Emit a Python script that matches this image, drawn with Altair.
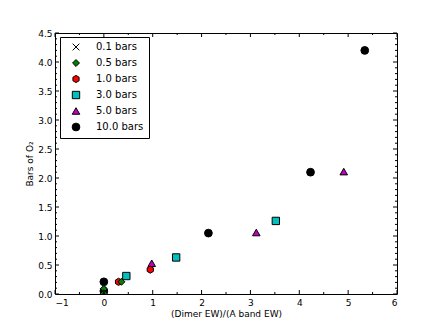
import altair as alt
import pandas as pd

# ---- data ----
series = ["0.1 bars", "0.5 bars", "1.0 bars", "3.0 bars", "5.0 bars", "10.0 bars"]
colors = ["#000000", "#007F00", "#FF0000", "#00BFBF", "#BF00BF", "#000000"]

x10 = [0.0, 0.0, 2.14, 4.23, 5.34]
y10 = [0.21, 0.05, 1.05, 2.10, 4.20]
x3 = [0.46, 1.48, 3.52]
y3 = [0.31, 0.63, 1.26]
x5 = [0.98, 3.12, 4.91]
y5 = [0.53, 1.06, 2.11]
x1 = [0.30, 0.95]
y1 = [0.21, 0.42]
x05 = [0.0, 0.0, 0.36]
y05 = [0.09, 0.01, 0.21]
x01 = [0.0]
y01 = [0.02]

x_major = [-1, 0, 1, 2, 3, 4, 5, 6]
x_minor = [-0.5, 0.5, 1.5, 2.5, 3.5, 4.5, 5.5]
y_major = [0.0, 0.5, 1.0, 1.5, 2.0, 2.5, 3.0, 3.5, 4.0, 4.5]
y_minor = [round(v / 10, 1) for v in range(0, 46) if v % 5 != 0]

# ---- table (draw order as in the reference) ----
rows = []
for name, xs, ys in [("10.0 bars", x10, y10), ("3.0 bars", x3, y3), ("5.0 bars", x5, y5),
                     ("1.0 bars", x1, y1), ("0.5 bars", x05, y05), ("0.1 bars", x01, y01)]:
    for a, b in zip(xs, ys):
        rows.append({"series": name, "x": a, "y": b})
df = pd.DataFrame(rows)

W, H = 342, 261
FONT = "DejaVu Sans"

xs = alt.Scale(domain=[-1, 6], nice=False, zero=False)
ys = alt.Scale(domain=[0, 4.5], nice=False, zero=False)

xaxis = alt.Axis(values=x_major, format="d", ticks=False, domain=False, grid=False,
                 labelPadding=4, titlePadding=2, labelOverlap=False)
yaxis = alt.Axis(values=y_major, format=".1f", ticks=False, domain=False, grid=False,
                 labelPadding=3, titlePadding=3, labelOverlap=False)
XT = "(Dimer EW)/(A band EW)"
YT = "Bars of O₂"

hexagon = "M0,-1L0.866,-0.5L0.866,0.5L0,1L-0.866,0.5L-0.866,-0.5Z"
xmark = "M-1,-1L1,1M-1,1L1,-1"
shapes = [xmark, "diamond", hexagon, "square", "triangle-up", "circle"]
sizes = [45, 60, 110, 40, 65, 145]

points = alt.Chart(df).mark_point(filled=True, stroke="black", strokeWidth=1,
                                  opacity=1, clip=True).encode(
    x=alt.X("x:Q", scale=xs, title=XT, axis=xaxis),
    y=alt.Y("y:Q", scale=ys, title=YT, axis=yaxis),
    color=alt.Color("series:N", scale=alt.Scale(domain=series, range=colors),
                    legend=alt.Legend(title=None, orient="none", legendX=5, legendY=4,
                                      padding=5, rowPadding=4, labelOffset=15,
                                      symbolOffset=6,
                                      strokeColor="black", fillColor="white",
                                      labelFont=FONT, labelFontSize=10,
                                      symbolStrokeColor="black", symbolStrokeWidth=1)),
    shape=alt.Shape("series:N", scale=alt.Scale(domain=series, range=shapes)),
    size=alt.Size("series:N", scale=alt.Scale(domain=series, range=sizes)),
)

def vticks(vals, y0, y1):
    return alt.Chart(pd.DataFrame({"x": vals})).mark_rule(color="black", strokeWidth=1).encode(
        x=alt.X("x:Q", scale=xs, title=XT, axis=xaxis), y=alt.value(y0), y2=alt.value(y1))

def hticks(vals, x0, x1):
    return alt.Chart(pd.DataFrame({"y": vals})).mark_rule(color="black", strokeWidth=1).encode(
        y=alt.Y("y:Q", scale=ys, title=YT, axis=yaxis), x=alt.value(x0), x2=alt.value(x1))

ticks = [
    vticks(x_major, H, H - 4), vticks(x_major, 0, 4),
    vticks(x_minor, H, H - 2), vticks(x_minor, 0, 2),
    hticks(y_major, 0, 4), hticks(y_major, W, W - 4),
    hticks(y_minor, 0, 2), hticks(y_minor, W, W - 2),
]

chart = alt.layer(points, *ticks).properties(
    width=W, height=H,
    autosize=alt.AutoSizeParams(type="none"),
    padding={"left": 47, "top": 25, "right": 30, "bottom": 25},
).configure_view(stroke="black", strokeWidth=1).configure_axis(
    labelFont=FONT, labelFontSize=9, labelColor="black",
    titleFont=FONT, titleFontSize=9, titleFontWeight="normal", titleColor="black",
).configure_legend(cornerRadius=0)

chart.save("out.html", embed_options={"renderer": "svg", "actions": False})
